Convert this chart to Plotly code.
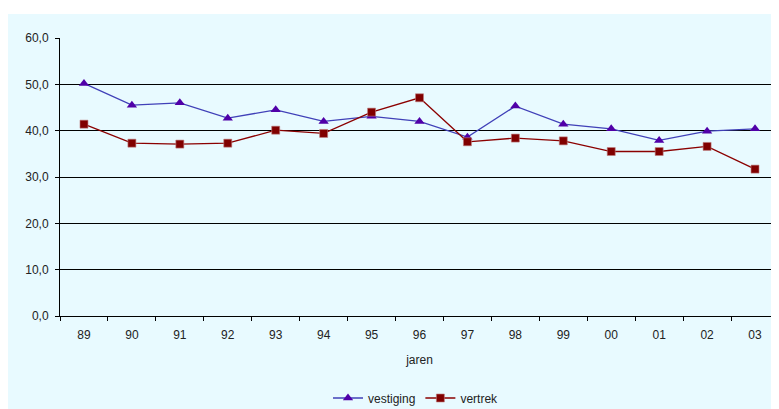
import plotly.graph_objects as go

jaren = ["89", "90", "91", "92", "93", "94", "95", "96", "97", "98", "99", "00", "01", "02", "03"]
vestiging = [50.2, 45.5, 46.0, 42.7, 44.5, 42.0, 43.1, 42.0, 38.6, 45.3, 41.4, 40.4, 37.9, 39.9, 40.4]
vertrek = [41.4, 37.3, 37.1, 37.3, 40.1, 39.4, 44.0, 47.1, 37.6, 38.4, 37.8, 35.5, 35.5, 36.6, 31.7]

BG = "#E8FAFF"
# page body has an 8px margin; figure origin sits at (8, 8) in the window
W, H = 771, 401
L, R, T, B = 52, 0, 30, 93
pw, ph = W - L - R, H - T - B

fig = go.Figure()
fig.add_trace(go.Scatter(
    x=jaren, y=vestiging, name="vestiging", mode="lines+markers",
    line=dict(color="#4040B8", width=1.3),
    marker=dict(symbol="triangle-up", size=9, color="#5000A8",
                line=dict(color="#5000A8", width=0)),
))
fig.add_trace(go.Scatter(
    x=jaren, y=vertrek, name="vertrek", mode="lines+markers",
    line=dict(color="#8B0000", width=1.3),
    marker=dict(symbol="square", size=8, color="#800000",
                line=dict(color="#C08080", width=0.6)),
))

fig.add_shape(type="rect", xref="paper", yref="paper",
              x0=-L / pw - 0.01, x1=1.02, y0=-B / ph - 0.02, y1=(H - B - 6) / ph,
              fillcolor=BG, line=dict(width=0), layer="below")

fig.update_layout(
    width=W, height=H,
    margin=dict(l=L, r=R, t=T, b=B, autoexpand=False),
    paper_bgcolor="white", plot_bgcolor=BG,
    separators=",.",
    font=dict(family="Liberation Sans, Arial, sans-serif", size=12, color="#222"),
    showlegend=True,
    legend=dict(orientation="h", xref="container", x=408 / W, xanchor="center",
                yref="container", y=1 - 390 / H, yanchor="middle",
                bgcolor="rgba(0,0,0,0)", font=dict(size=12), itemwidth=30),
    xaxis=dict(type="category", range=[-0.5, 14.5], showgrid=False,
               showline=True, linecolor="black", linewidth=1,
               ticks="outside", tickson="boundaries", ticklen=4, tickcolor="black",
               ticklabelstandoff=8, automargin=False,
               title=dict(text="jaren", standoff=14, font=dict(size=12))),
    yaxis=dict(range=[0, 60], dtick=10, tickformat=".1f",
               showgrid=True, gridcolor="black", gridwidth=1,
               showline=True, linecolor="black", linewidth=1,
               ticks="outside", ticklen=4, tickcolor="black",
               ticklabelstandoff=4, automargin=False,
               zeroline=False),
)

fig.write_html("out.html")
